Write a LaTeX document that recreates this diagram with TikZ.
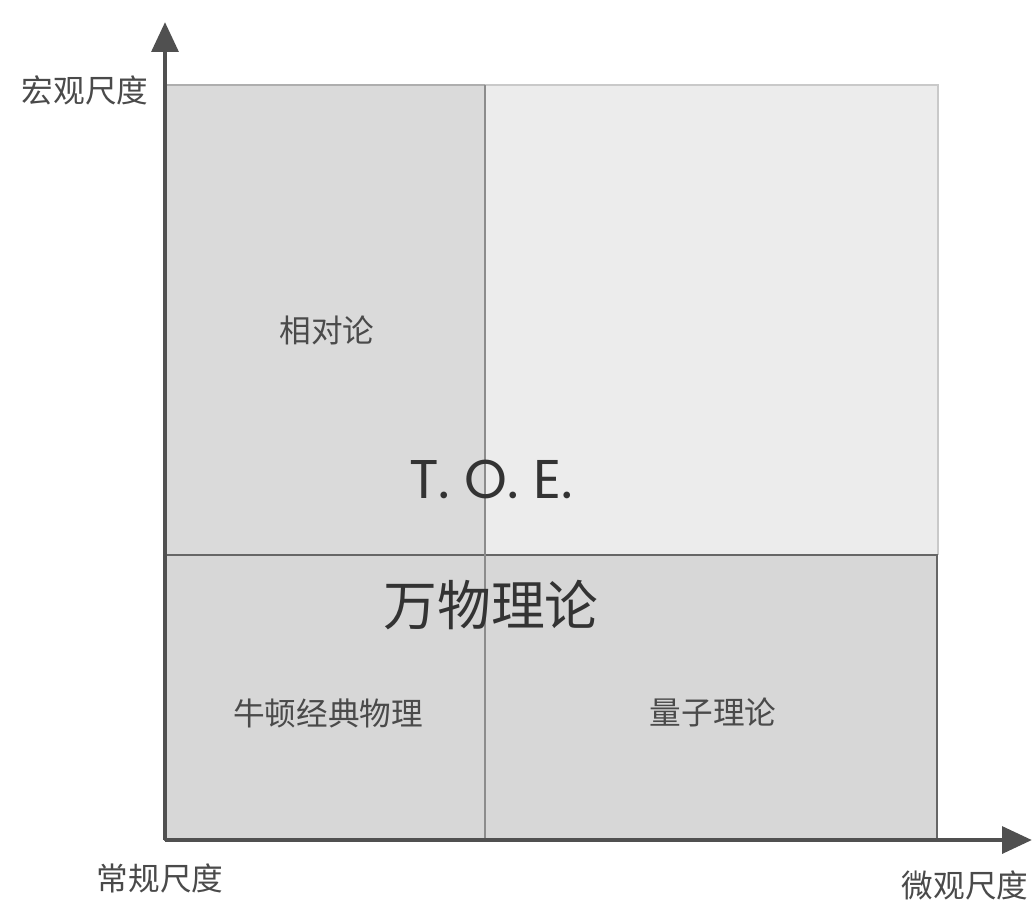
\documentclass[tikz,border=0pt]{standalone}
\usepackage{fontspec}
\newfontfamily\cjk{Noto Sans CJK SC}
\newfontfamily\latinsans{Poppins}
\usetikzlibrary{arrows.meta}
\definecolor{ulfill}{HTML}{DADADA}
\definecolor{urfill}{HTML}{ECECEC}
\definecolor{bfill}{HTML}{D7D7D7}
\definecolor{axiscol}{HTML}{505050}
\definecolor{labelcol}{HTML}{4A4A4A}
\definecolor{titlecol}{HTML}{333333}
\tikzset{
  axislabel/.style={font=\cjk\fontsize{9}{9}\selectfont, text=labelcol, inner sep=0pt},
  regionlabel/.style={font=\cjk\fontsize{9}{9}\selectfont, text=labelcol, inner sep=0pt},
  biglabel/.style={font=\cjk\fontsize{15.3}{16}\selectfont, text=titlecol, inner sep=0pt},
  toelabel/.style={font=\latinsans\fontsize{15.5}{16}\selectfont, text=titlecol, inner sep=0pt},
  axisline/.style={draw=axiscol, line width=1.4pt, -{Triangle[length=8.5pt,width=7.5pt]}},
}
\begin{document}
\begin{tikzpicture}[x=0.01cm,y=-0.01cm]
\useasboundingbox (0,0) rectangle (1034,905);
% regions
\fill[urfill] (485,85) rectangle (938,555);
\draw[draw=urfill!85!black, line width=0.4pt] (485,85) -- (938,85) -- (938,555);
\fill[ulfill] (165,85) rectangle (485,555);
\draw[draw=ulfill!80!black, line width=0.7pt] (165,85) -- (485,85);
\fill[bfill] (165,555) rectangle (937,840);
\draw[draw=black!60, line width=0.8pt] (165,555) rectangle (937,840);
\draw[draw=black!45, line width=0.5pt] (485,85) -- (485,840);
% axes
\coordinate (O) at (165,840);
\coordinate (ytip) at (165,22);
\coordinate (xtip) at (1032,840);
\draw[axisline] (O) -- (ytip);
\draw[axisline] (O) -- (xtip);
% labels
\node[axislabel] (macro) at (85,90) {宏观尺度};
\node[axislabel] (normal) at (160,878) {常规尺度};
\node[axislabel] (micro) at (965,885) {微观尺度};
\node[regionlabel] (rel) at (327,330) {相对论};
\node[regionlabel] (newton) at (328,713) {牛顿经典物理};
\node[regionlabel] (quantum) at (713,712) {量子理论};
\node[toelabel] (toe) at (491,479) {T. O. E.};
\node[biglabel] (wanwu) at (491,605) {万物理论};
\end{tikzpicture}
\end{document}
